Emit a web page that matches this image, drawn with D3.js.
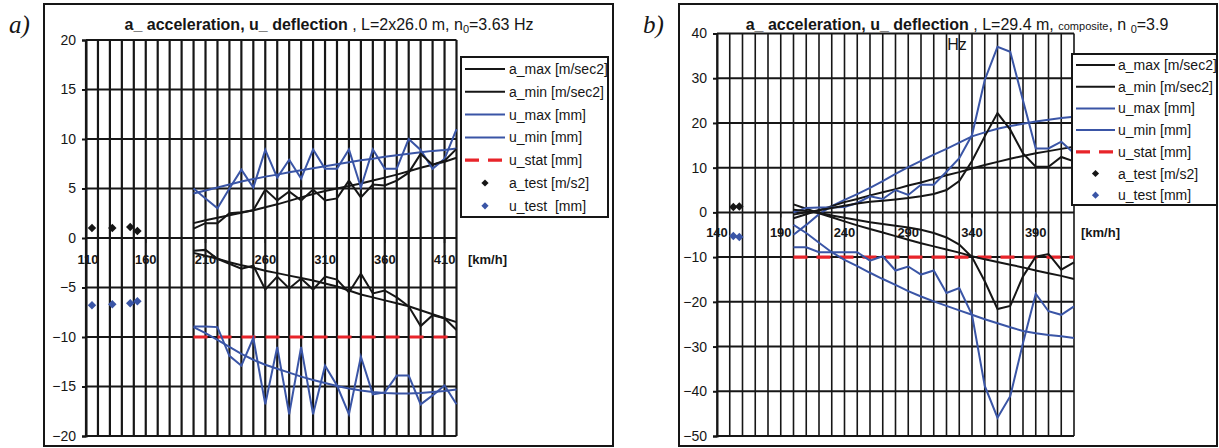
<!DOCTYPE html>
<html><head><meta charset="utf-8">
<script src="https://cdn.jsdelivr.net/npm/d3@7"></script>
<style>
body{margin:0;background:#fff;}
svg{display:block;font-family:"Liberation Sans",Arial,sans-serif;}
</style></head><body>
<svg id="chart" width="1219" height="448"></svg>
<script>
// ---------- shared ----------
const speeds = [200,210,220,230,240,250,260,270,280,290,300,310,320,330,340,350,360,370,380,390,400,410,420];
const legendLabelsA = ["a_max [m/sec2]","a_min [m/sec2]","u_max [mm]","u_min [mm]","u_stat [mm]","a_test [m/s2]","u_test  [mm]"];
const legendLabelsB = ["a_max [m/sec2]","a_min [m/sec2]","u_max [mm]","u_min [mm]","u_stat [mm]","a_test [m/s2]","u_test [mm]"];

// ---------- panel a ----------
const aMaxA      = [0.95,1.5,1.5,2.5,2.6,2.8,4.9,3.8,4.7,3.8,4.9,3.8,4.0,5.8,4.1,5.4,5.3,5.8,6.6,8.5,7.4,7.8,9.0];
const aMaxTrendA = [1.5,1.8,2.05,2.3,2.55,2.8,3.1,3.4,3.75,4.1,4.45,4.75,5.0,5.25,5.5,5.8,6.1,6.4,6.75,7.1,7.4,7.7,8.1];
const aMinA      = [-1.3,-1.2,-2.1,-2.6,-3.1,-2.8,-5.2,-3.9,-5.1,-4.1,-5.2,-3.9,-4.2,-5.5,-3.6,-5.6,-5.3,-6.0,-6.9,-8.9,-7.8,-8.1,-9.3];
const aMinTrendA = [-1.5,-1.8,-2.1,-2.45,-2.75,-3.0,-3.3,-3.55,-3.8,-4.05,-4.3,-4.6,-4.9,-5.3,-5.7,-6.0,-6.3,-6.6,-6.9,-7.3,-7.7,-8.1,-8.5];
const uMaxA      = [5.0,4.0,3.0,5.0,6.9,5.1,8.9,6.1,7.9,6.0,8.95,7.0,7.0,8.95,5.1,8.95,7.0,7.0,10.0,8.9,7.0,8.0,11.0];
const uMaxTrendA = [4.5,4.8,5.1,5.4,5.7,5.95,6.2,6.4,6.65,6.85,7.05,7.25,7.45,7.65,7.85,8.0,8.2,8.35,8.5,8.65,8.8,8.9,9.05];
const uMinA      = [-8.95,-8.95,-9.0,-11.9,-12.9,-10.1,-16.8,-11.0,-17.8,-11.0,-17.8,-12.9,-14.9,-17.8,-12.0,-15.8,-15.6,-13.9,-13.9,-16.8,-15.9,-14.9,-16.8];
const uMinTrendA = [-9.0,-9.6,-10.3,-11.0,-11.7,-12.3,-12.8,-13.2,-13.6,-14.0,-14.35,-14.65,-14.95,-15.2,-15.4,-15.55,-15.65,-15.7,-15.7,-15.65,-15.55,-15.45,-15.3];
const uStatA = [-10,-10];
const uStatSpeedsA = [200,420];
const testSpeedsA = [115,132,147,153];
const aTestA = [1.0,1.0,1.1,0.7];
const uTestA = [-6.8,-6.7,-6.6,-6.4];
const yTicksA = [-20,-15,-10,-5,0,5,10,15,20];
const xLabelsA = [110,160,210,260,310,360,410];
const xGridA = [110,120,130,140,150,160,170,180,190,200,210,220,230,240,250,260,270,280,290,300,310,320,330,340,350,360,370,380,390,400,410,420];

// ---------- panel b ----------
const aMaxB      = [-0.5,0.0,0.5,1.0,1.5,2.0,2.4,2.6,2.9,3.2,3.6,4.1,5.0,7.0,11.5,17.0,22.2,18.5,13.2,10.2,10.2,12.4,11.4];
const aMaxTrendB = [-1.3,-0.4,0.5,1.4,2.3,3.0,3.8,4.5,5.2,6.0,6.7,7.5,8.3,9.0,9.8,10.6,11.3,12.0,12.6,13.2,13.7,14.2,14.7];
const aMinB      = [0.6,0.3,-0.1,-0.7,-1.2,-1.7,-2.2,-2.6,-3.0,-3.4,-3.9,-4.6,-5.6,-7.2,-10.0,-15.4,-21.6,-20.9,-14.3,-9.9,-9.3,-12.8,-11.2];
const aMinTrendB = [1.8,0.8,-0.2,-1.1,-2.0,-2.9,-3.7,-4.5,-5.3,-6.1,-6.9,-7.6,-8.3,-9.0,-9.8,-10.5,-11.1,-11.7,-12.3,-13.0,-13.6,-14.2,-14.9];
const uMaxB      = [0.0,1.0,1.1,1.1,1.2,2.1,3.6,3.0,5.0,3.9,6.2,6.2,9.1,12.1,17.3,29.6,37.0,35.9,25.0,14.3,14.3,15.8,13.2];
const uMaxTrendB = [-5.0,-2.8,-0.4,1.4,2.8,4.1,5.5,7.0,8.6,10.1,11.5,12.9,14.2,15.6,17.0,17.9,18.7,19.3,19.8,20.3,20.7,21.1,21.4];
const uMinB      = [-7.8,-7.8,-8.9,-8.9,-8.9,-8.9,-10.8,-9.8,-13.0,-12.1,-13.9,-13.0,-18.0,-16.9,-22.9,-38.8,-45.9,-41.1,-29.2,-18.2,-22.1,-22.9,-21.0];
const uMinTrendB = [-2.8,-4.6,-6.8,-8.9,-10.6,-12.0,-13.5,-14.9,-16.2,-17.6,-18.8,-19.9,-20.9,-21.9,-22.9,-23.9,-24.8,-25.7,-26.5,-27.0,-27.4,-27.7,-28.1];
const uStatB = [-10,-10];
const uStatSpeedsB = [200,420];
const testSpeedsB = [152.8,157.5];
const aTestB = [1.2,1.3];
const uTestB = [-5.3,-5.5];
const yTicksB = [-50,-40,-30,-20,-10,0,10,20,30,40];
const xLabelsB = [140,190,240,290,340,390];
const xGridB = [140,150,160,170,180,190,200,210,220,230,240,250,260,270,280,290,300,310,320,330,340,350,360,370,380,390,400,410,420];

// ---------- drawing ----------
const BLACK = "#161616", BLUE = "#3a55a6", RED = "#e8242a";
const svg = d3.select("#chart");
const diamond = d3.symbol().type(d3.symbolSquare).size(36);

function drawPanel(c) {
  const g = svg.append("g");
  // frame
  g.append("rect").attr("x", c.frame[0]).attr("y", c.frame[1])
    .attr("width", c.frame[2]-c.frame[0]).attr("height", c.frame[3]-c.frame[1])
    .attr("fill", "#fff").attr("stroke", BLACK).attr("stroke-width", 2);
  // panel letter
  g.append("text").attr("x", c.letterX).attr("y", 33)
    .style("font-family", "'Liberation Serif','Times New Roman',serif")
    .style("font-style", "italic").style("font-size", "25px").attr("fill", BLACK).text(c.letter);
  const x = c.x, y = c.y;
  const [x0, x1] = x.range(), [yb, yt] = y.range();
  // vertical grid
  g.append("g").selectAll("line").data(c.xGrid).join("line")
    .attr("x1", d => x(d)).attr("x2", d => x(d)).attr("y1", yt).attr("y2", yb)
    .attr("stroke", BLACK).attr("stroke-width", c.vgw);
  // horizontal grid
  g.append("g").selectAll("line").data(c.yTicks).join("line")
    .attr("x1", x0).attr("x2", x1).attr("y1", d => y(d)).attr("y2", d => y(d))
    .attr("stroke", BLACK).attr("stroke-width", 2);
  // y axis labels
  const ax = g.append("g").attr("transform", `translate(${x0},0)`)
    .call(d3.axisLeft(y).tickValues(c.yTicks).tickSize(4).tickPadding(6).tickFormat(d3.format("d")));
  ax.select(".domain").attr("stroke", BLACK).attr("stroke-width", 2);
  ax.selectAll(".tick line").attr("stroke", BLACK).attr("stroke-width", 2);
  ax.selectAll("text").style("font-size", "14px").style("font-family", "'Liberation Sans',Arial,sans-serif").attr("fill", BLACK);
  // x tick marks on zero line
  g.append("g").selectAll("line").data(c.xLabels).join("line")
    .attr("x1", d => x(d)).attr("x2", d => x(d)).attr("y1", y(0)).attr("y2", y(0)+5)
    .attr("stroke", BLACK).attr("stroke-width", 1.5);
  // x labels
  g.append("g").selectAll("text").data(c.xLabels).join("text")
    .attr("x", d => x(d) + (d === c.xLabels[0] ? c.firstShift : 0)).attr("y", y(0) + c.xLabelDy)
    .attr("text-anchor", "middle").style("font-size", "13px").style("font-weight", "bold")
    .attr("fill", BLACK).text(d => d);
  g.append("text").attr("x", c.unitX).attr("y", y(0) + c.xLabelDy).style("font-size", "13px")
    .style("font-weight", "bold").attr("fill", BLACK).text("[km/h]");

  const line = d3.line().x((d, i) => x(c.speeds[i])).y(d => y(d));
  const series = [
    [c.uMinTrend, BLUE], [c.uMaxTrend, BLUE], [c.aMinTrend, BLACK], [c.aMaxTrend, BLACK],
    [c.uMin, BLUE], [c.uMax, BLUE], [c.aMin, BLACK], [c.aMax, BLACK]
  ];
  // u_stat
  g.append("path").datum(c.uStat)
    .attr("d", d3.line().x((d, i) => x(c.uStatSpeeds[i])).y(d => y(d)))
    .attr("fill", "none").attr("stroke", RED).attr("stroke-width", 3.2).attr("stroke-dasharray", c.dash);
  g.append("g").selectAll("path").data(series).join("path")
    .attr("d", d => line(d[0])).attr("fill", "none").attr("stroke", d => d[1])
    .attr("stroke-width", 2).attr("stroke-linejoin", "miter");
  // test points (rotated squares = diamonds)
  g.append("g").selectAll("path").data(c.aTest).join("path")
    .attr("transform", (d, i) => `translate(${x(c.testSpeeds[i])},${y(d)}) rotate(45)`)
    .attr("d", diamond).attr("fill", BLACK);
  g.append("g").selectAll("path").data(c.uTest).join("path")
    .attr("transform", (d, i) => `translate(${x(c.testSpeeds[i])},${y(d)}) rotate(45)`)
    .attr("d", diamond).attr("fill", BLUE);

  // title
  const t = g.append("text").attr("x", c.titleX).attr("y", 30).attr("text-anchor", "middle")
    .style("font-size", "16px").attr("fill", BLACK).style("white-space", "pre");
  c.title.forEach(p => {
    const ts = t.append("tspan").text(p.t);
    if (p.b) ts.style("font-weight", "bold");
    if (p.s) ts.style("font-size", p.s + "px");
    if (p.dy) ts.attr("dy", p.dy);
  });
  if (c.title2) {
    g.append("text").attr("x", c.titleX).attr("y", 50).attr("text-anchor", "middle")
      .style("font-size", "16px").attr("fill", BLACK).text(c.title2);
  }

  // legend
  const L = c.legend;
  g.append("rect").attr("x", L.x0).attr("y", L.y0).attr("width", L.x1 - L.x0).attr("height", L.y1 - L.y0)
    .attr("fill", "#fff").attr("stroke", BLACK).attr("stroke-width", 2);
  const styles = [
    {c: BLACK}, {c: BLACK}, {c: BLUE}, {c: BLUE}, {c: RED, dash: true}, {c: BLACK, m: true}, {c: BLUE, m: true}
  ];
  const rows = g.append("g").selectAll("g").data(c.legendLabels).join("g")
    .attr("transform", (d, i) => `translate(0,${L.row0 + i * L.step})`);
  rows.each(function(d, i) {
    const r = d3.select(this), s = styles[i];
    if (s.m) {
      r.append("path").attr("transform", `translate(${(L.lx0 + L.lx1) / 2},0) rotate(45)`)
        .attr("d", d3.symbol().type(d3.symbolSquare).size(26)).attr("fill", s.c);
    } else {
      r.append("line").attr("x1", L.lx0).attr("x2", L.lx1).attr("y1", 0).attr("y2", 0)
        .attr("stroke", s.c).attr("stroke-width", s.dash ? 3.2 : 2)
        .attr("stroke-dasharray", s.dash ? "14,9" : null);
    }
    r.append("text").attr("x", L.tx).attr("y", 5).style("font-size", "14px")
      .style("white-space", "pre").attr("fill", BLACK).text(d);
  });
}

drawPanel({
  frame: [44, 4, 613, 446], letter: "a)", letterX: 9,
  x: d3.scaleLinear([110, 420], [86, 456.5]), y: d3.scaleLinear([-20, 20], [436, 40]),
  xGrid: xGridA, yTicks: yTicksA, xLabels: xLabelsA, vgw: 2.2, xLabelDy: 26, firstShift: 2, unitX: 468,
  speeds: speeds, aMax: aMaxA, aMaxTrend: aMaxTrendA, aMin: aMinA, aMinTrend: aMinTrendA,
  uMax: uMaxA, uMaxTrend: uMaxTrendA, uMin: uMinA, uMinTrend: uMinTrendA,
  uStat: uStatA, uStatSpeeds: uStatSpeedsA, dash: "14,10",
  testSpeeds: testSpeedsA, aTest: aTestA, uTest: uTestA,
  titleX: 329,
  title: [{t: "a_ acceleration, u_ deflection", b: true}, {t: " , L=2x26.0 m, n"}, {t: "0", s: 11, dy: 3}, {t: "=3.63 Hz", dy: -3}],
  legend: {x0: 461, y0: 57, x1: 608, y1: 217, row0: 69, step: 22.8, lx0: 465, lx1: 505, tx: 509},
  legendLabels: legendLabelsA
});

drawPanel({
  frame: [679, 4, 1217, 446], letter: "b)", letterX: 643,
  x: d3.scaleLinear([140, 420], [717, 1074]), y: d3.scaleLinear([-50, 40], [436, 33.5]),
  xGrid: xGridB, yTicks: yTicksB, xLabels: xLabelsB, vgw: 1.6, xLabelDy: 25, firstShift: 0, unitX: 1081,
  speeds: speeds, aMax: aMaxB, aMaxTrend: aMaxTrendB, aMin: aMinB, aMinTrend: aMinTrendB,
  uMax: uMaxB, uMaxTrend: uMaxTrendB, uMin: uMinB, uMinTrend: uMinTrendB,
  uStat: uStatB, uStatSpeeds: uStatSpeedsB, dash: "14,9",
  testSpeeds: testSpeedsB, aTest: aTestB, uTest: uTestB,
  titleX: 957,
  title: [{t: "a_ acceleration, u_ deflection", b: true}, {t: " , L=29.4 m, "}, {t: "composite", s: 11}, {t: ", n "}, {t: "0", s: 11, dy: 3}, {t: "=3.9", dy: -3}],
  title2: "Hz",
  legend: {x0: 1072, y0: 54, x1: 1217, y1: 205, row0: 65, step: 21.7, lx0: 1076, lx1: 1115, tx: 1118},
  legendLabels: legendLabelsB
});
</script>
</body></html>
